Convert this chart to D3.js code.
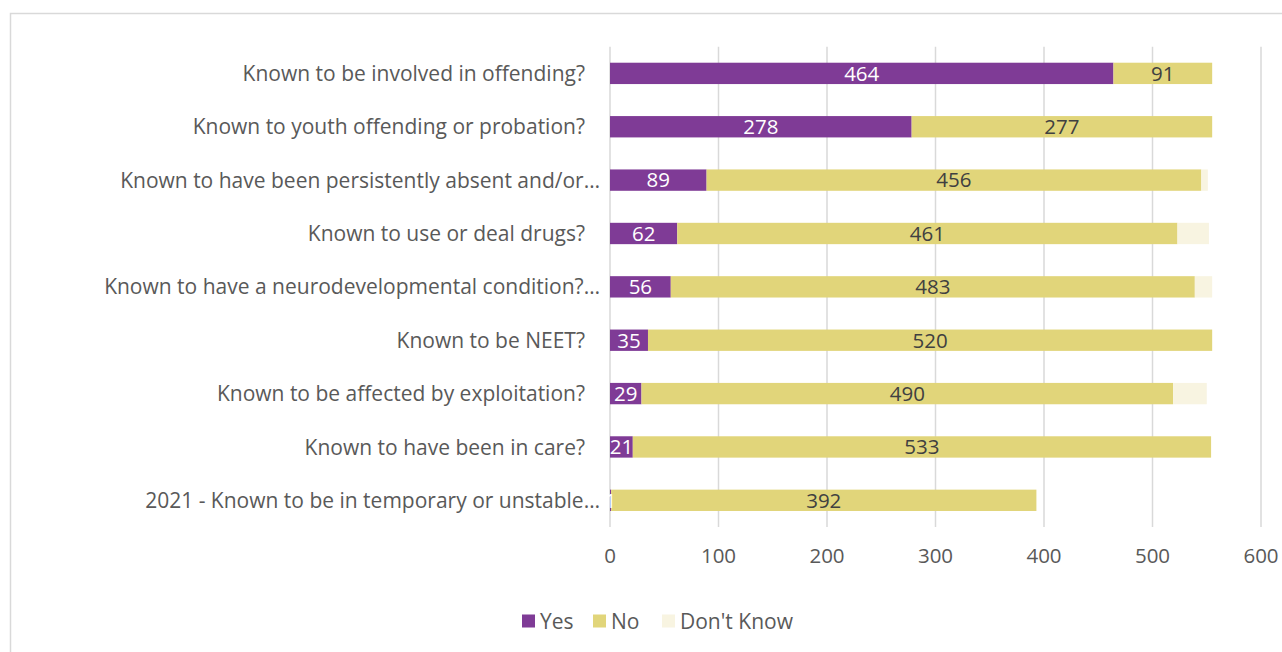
<!DOCTYPE html>
<html>
<head>
<meta charset="utf-8">
<script src="https://cdn.jsdelivr.net/npm/d3@7"></script>
<style>
  body { margin: 0; background: #fff; }
  svg text { font-family: "Open Sans", "Noto Sans", sans-serif; }
</style>
</head>
<body>
<svg id="chart" width="1282" height="652"></svg>
<script>
// Chart data
const categories = [
    'Known to be involved in offending?',
    'Known to youth offending or probation?',
    'Known to have been persistently absent and/or\u2026',
    'Known to use or deal drugs?',
    'Known to have a neurodevelopmental condition?\u2026',
    'Known to be NEET?',
    'Known to be affected by exploitation?',
    'Known to have been in care?',
    '2021 - Known to be in temporary or unstable\u2026'
];
const yesValues = [464, 278, 89, 62, 56, 35, 29, 21, 1];
const noValues = [91, 277, 456, 461, 483, 520, 490, 533, 392];
const dontKnowValues = [0, 0, 6, 29, 16, 0, 31, 0, 0];
const seriesNames = ['Yes', 'No', "Don't Know"];
const xTicks = [0, 100, 200, 300, 400, 500, 600];

const colors = ['#7f3b96', '#e1d57a', '#f8f4e1'];
const labelColors = ['#ffffff', '#404040', null];

const svg = d3.select('#chart');

// Outer frame
svg.append('rect')
    .attr('x', 10.5).attr('y', 13.5)
    .attr('width', 1300).attr('height', 660)
    .attr('fill', 'none')
    .attr('stroke', '#d9d9d9')
    .attr('stroke-width', 1.5);

const plot = { left: 610, right: 1261, top: 46.7, bottom: 527 };

const x = d3.scaleLinear().domain([0, 600]).range([plot.left, plot.right]);
const y = d3.scaleBand().domain(categories).range([plot.top, plot.bottom]).paddingInner(0.6).paddingOuter(0.3);

// Gridlines
svg.append('g')
    .selectAll('line')
    .data(xTicks)
    .enter()
    .append('line')
    .attr('x1', d => x(d)).attr('x2', d => x(d))
    .attr('y1', plot.top).attr('y2', plot.bottom)
    .attr('stroke', '#d9d9d9')
    .attr('stroke-width', 1.5);

// Stack the series
const rows = categories.map((c, i) => ({ cat: c, Yes: yesValues[i], No: noValues[i], "Don't Know": dontKnowValues[i] }));
const stacked = d3.stack().keys(seriesNames)(rows);

const layers = svg.append('g')
    .selectAll('g')
    .data(stacked)
    .enter()
    .append('g')
    .attr('fill', (d, i) => colors[i]);

layers.selectAll('rect')
    .data(d => d)
    .enter()
    .append('rect')
    .attr('x', d => x(d[0]))
    .attr('y', d => y(d.data.cat))
    .attr('width', d => x(d[1]) - x(d[0]))
    .attr('height', y.bandwidth());

// Data labels (Yes and No only)
stacked.forEach((layer, si) => {
    if (!labelColors[si]) return;
    svg.append('g')
        .selectAll('text')
        .data(layer)
        .enter()
        .append('text')
        .attr('x', d => (x(d[0]) + x(d[1])) / 2)
        .attr('y', d => y(d.data.cat) + y.bandwidth() / 2)
        .attr('dy', '0.36em')
        .attr('text-anchor', 'middle')
        .attr('fill', labelColors[si])
        .style('font-size', '20.5px')
        .text(d => d[1] - d[0]);
});

// Category labels (truncated ones run a little further right)
svg.append('g')
    .selectAll('text')
    .data(categories)
    .enter()
    .append('text')
    .attr('x', d => d.endsWith('\u2026') ? 600 : 585)
    .attr('y', d => y(d) + y.bandwidth() / 2)
    .attr('dy', '0.36em')
    .attr('text-anchor', 'end')
    .attr('fill', '#595959')
    .style('font-size', '21px')
    .text(d => d);

// X tick labels
svg.append('g')
    .selectAll('text')
    .data(xTicks)
    .enter()
    .append('text')
    .attr('x', d => x(d))
    .attr('y', 556)
    .attr('dy', '0.36em')
    .attr('text-anchor', 'middle')
    .attr('fill', '#595959')
    .style('font-size', '20.5px')
    .text(d => d);

// Legend
const legendX = [522, 593, 662];
const legend = svg.append('g')
    .selectAll('g')
    .data(seriesNames)
    .enter()
    .append('g')
    .attr('transform', (d, i) => `translate(${legendX[i]},621)`);

legend.append('rect')
    .attr('x', 0).attr('y', -6.5)
    .attr('width', 13).attr('height', 13)
    .attr('fill', (d, i) => colors[i]);

legend.append('text')
    .attr('x', 18)
    .attr('dy', '0.36em')
    .attr('fill', '#595959')
    .style('font-size', '21px')
    .text(d => d);
</script>
</body>
</html>
